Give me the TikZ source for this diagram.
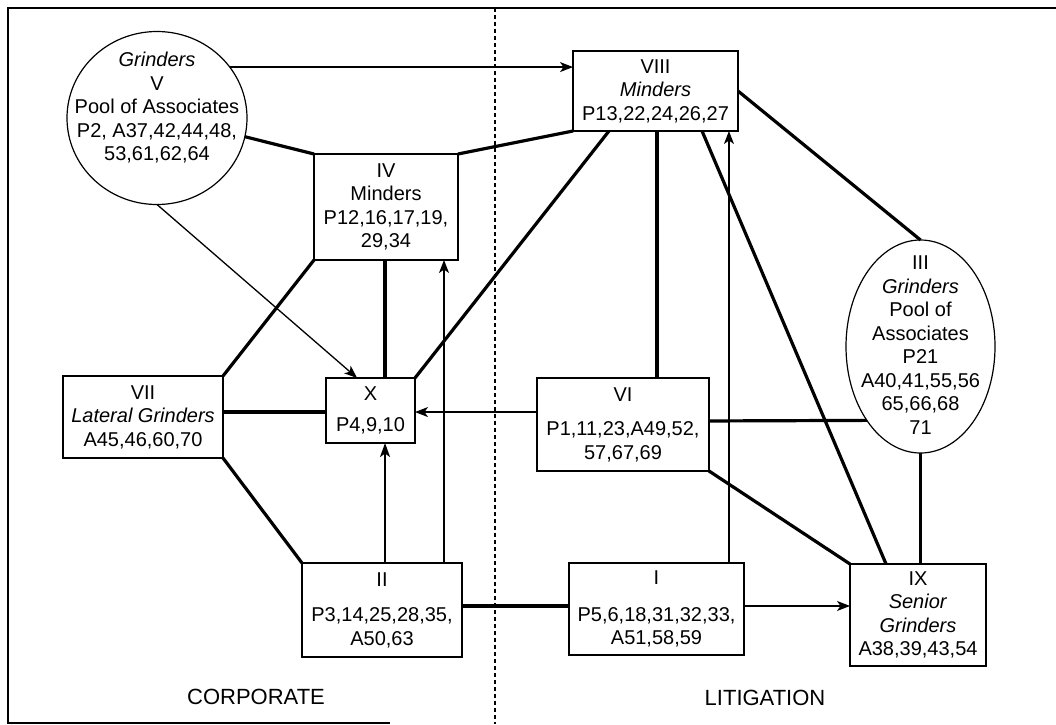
\documentclass[tikz,border=0pt]{standalone}
\usepackage{fontspec}
\setmainfont{Liberation Sans}
\usetikzlibrary{shapes.geometric,calc,arrows.meta}
\begin{document}
\begin{tikzpicture}[x=1pt,y=-1pt,
  every node/.style={font=\fontsize{20}{23.5}\selectfont, align=center, inner sep=0pt, outer sep=0pt},
  box/.style={draw, line width=1.2pt, rectangle},
  oval/.style={draw, line width=1.2pt, ellipse},
  strong/.style={line width=3.2pt},
  arr/.style={line width=1.3pt, -{Stealth[length=13pt,width=10pt,inset=3.5pt]}},
  medarr/.style={line width=2pt, -{Stealth[length=14pt,width=10pt,inset=3.5pt]}},
  lbl/.style={font=\fontsize{22}{26}\selectfont},
  frame/.style={line width=2pt},
  divider/.style={line width=1.3pt, dash pattern=on 4pt off 3pt}
]
\useasboundingbox (0,0) rectangle (1056,724);

% frame and divider
\coordinate (fTL) at (8,8);
\coordinate (fTR) at (1056,8);
\coordinate (fBL) at (8,722.5);
\coordinate (fBR) at (390,722.5);
\draw[frame] (fTR) -- (fTL) -- (fBL) -- (fBR);
\coordinate (dTop) at (495,8);
\coordinate (dBot) at (495,724);
\draw[divider] (dTop) -- (dBot);

% nodes
\node[oval, minimum width=180pt, minimum height=173pt] (V) at (157,118) {};
\node (Vtext) at (157,108) {\textit{Grinders}\\V\\Pool of Associates\\P2, A37,42,44,48,\\53,61,62,64};

\node[box, minimum width=144pt, minimum height=106pt] (IV) at (386,207) {IV\\Minders\\P12,16,17,19,\\29,34};
\node[box, minimum width=165pt, minimum height=80pt] (VIII) at (655.5,91) {VIII\\\textit{Minders}\\P13,22,24,26,27};
\node[box, minimum width=160pt, minimum height=82pt] (VII) at (143,417) {VII\\\textit{Lateral Grinders}\\A45,46,60,70};
\node[box, minimum width=89pt, minimum height=65pt] (X) at (370.5,410.5) {X\\[7pt]P4,9,10};
\node[box, minimum width=172pt, minimum height=93pt] (VI) at (623,424.5) {VI\\[11pt]P1,11,23,A49,52,\\57,67,69};
\node[oval, minimum width=149pt, minimum height=213pt] (III) at (920.5,346.5) {};
\node (IIItext) at (920.5,345) {III\\\textit{Grinders}\\Pool of\\Associates\\P21\\A40,41,55,56\\65,66,68\\71};
\node[box, minimum width=160pt, minimum height=94pt] (II) at (382,610) {II\\[12pt]P3,14,25,28,35,\\A50,63};
\node[box, minimum width=175pt, minimum height=92pt] (I) at (656.5,609) {I\\[13pt]P5,6,18,31,32,33,\\A51,58,59};
\node[box, minimum width=136pt, minimum height=102pt] (IX) at (918,615) {IX\\\textit{Senior}\\\textit{Grinders}\\A38,39,43,54};

\node[lbl] (corp) at (256,697) {CORPORATE};
\node[lbl] (lit) at (765,698) {LITIGATION};

% helper coordinates on node borders
\coordinate (a6) at ($(X.north west)!0.663!(X.north east)$);
\coordinate (a7) at ($(II.north west)!0.8875!(II.north east)$);
\coordinate (a8) at ($(VIII.south west)!0.218!(VIII.south east)$);
\coordinate (a9) at ($(X.north west)!0.523!(X.south west)$);
\coordinate (a10) at ($(VI.north west)!0.366!(VI.south west)$);
\coordinate (a11) at ($(II.north west)!0.519!(II.north east)$);
\coordinate (a13) at ($(II.north east)!0.457!(II.south east)$);
\coordinate (a14) at ($(I.north east)!0.467!(I.south east)$);
\coordinate (a15) at ($(I.north west)!0.914!(I.north east)$);
\coordinate (a16) at ($(VIII.south west)!0.509!(VIII.south east)$);
\coordinate (a17a) at ($(VIII.south west)!0.782!(VIII.south east)$);
\coordinate (a17b) at ($(IX.north west)!0.265!(IX.north east)$);
\coordinate (a19) at ($(VI.north east)!0.462!(VI.south east)$);
\coordinate (a4) at ($(X.north west)!0.35!(X.north east)$);

% thin arrows
\draw[arr] (V.35) -- (V.35 -| VIII.west);
\draw[arr] (V.south) -- (a4);
\draw[arr] (a7) -- (a7 |- IV.south);
\draw[arr] (a10) -- (a10 -| X.east);
\draw[arr] (a14) -- (a14 -| IX.west);
\draw[arr] (a15) -- (a15 |- VIII.south);
\draw[medarr] (a11) -- (a11 |- X.south);

% thick links
\draw[strong] (V.-12) -- (IV.north west);
\draw[strong] (IV.north east) -- (VIII.south west);
\draw[strong] (IV.south west) -- (VII.north east);
\draw[strong] (a6) -- (a6 |- IV.south);
\draw[strong] (X.north east) -- (a8);
\draw[strong] (a9) -- (a9 -| VII.east);
\draw[strong] (VII.south east) -- (II.north west);
\draw[strong] (a13) -- (a13 -| I.west);
\draw[strong] (a16) -- (a16 |- VI.north);
\draw[strong] (a17a) -- (a17b);
\draw[strong] (VIII.east) -- (III.north);
\draw[strong] (a19) -- (III.234.3);
\draw[strong] (VI.south east) -- (IX.north west);
\draw[strong] (III.south) -- (III.south |- IX.north);
\end{tikzpicture}
\end{document}
